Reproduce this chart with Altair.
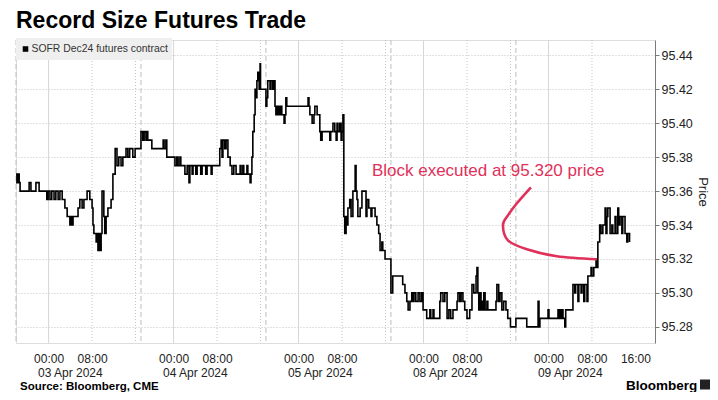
import altair as alt
import pandas as pd

# ---------------- data ----------------
series_name = "SOFR Dec24 futures contract"
sessions = ["03 Apr 2024", "04 Apr 2024", "05 Apr 2024", "08 Apr 2024", "09 Apr 2024"]

s1_time = ["18:00", "18:10", "18:20", "18:35", "18:45", "20:25", "20:45", "21:40", "22:15", "23:40",
           "23:55", "00:15", "00:35", "01:00", "01:20", "01:45", "02:05", "02:30", "03:00", "03:25",
           "03:55", "04:05", "04:20", "04:30", "05:25", "05:45", "06:10", "06:30", "07:05", "07:35",
           "08:00", "08:10", "08:20", "08:45", "08:55", "09:05", "09:15", "09:25", "09:40", "09:50",
           "10:10", "10:20", "10:35", "10:55", "11:30", "11:50", "12:15", "12:35", "12:55", "13:20",
           "13:40", "14:15", "14:35", "14:55", "15:30", "15:55"]
s1_price = [95.370, 95.365, 95.370, 95.365, 95.360, 95.365, 95.360, 95.365, 95.360, 95.355,
            95.360, 95.355, 95.360, 95.355, 95.360, 95.355, 95.360, 95.355, 95.350, 95.345,
            95.340, 95.345, 95.340, 95.345, 95.350, 95.355, 95.350, 95.355, 95.360, 95.355,
            95.350, 95.340, 95.335, 95.330, 95.335, 95.325, 95.335, 95.325, 95.335, 95.360,
            95.345, 95.335, 95.345, 95.350, 95.355, 95.370, 95.385, 95.375, 95.380, 95.375,
            95.380, 95.385, 95.380, 95.385, 95.380, 95.385]

s2_time = ["18:00", "18:20", "18:35", "18:55", "19:05", "19:15", "20:00", "22:05", "22:15", "22:35",
           "22:45", "00:15", "00:35", "00:50", "01:10", "01:20", "02:05", "02:30", "02:50", "03:00",
           "03:25", "03:35", "04:05", "04:20", "05:00", "05:15", "05:55", "06:10", "06:55", "07:05",
           "08:30", "08:45", "08:55", "09:05", "09:25", "09:40", "10:00", "10:25", "10:45", "11:05",
           "11:30", "12:15", "12:25", "12:45", "12:55", "13:30", "13:40", "14:05", "14:15", "14:25",
           "14:35", "14:50", "15:00", "15:10", "15:20", "15:30", "15:45", "15:55", "16:00"]
s2_price = [95.395, 95.390, 95.395, 95.390, 95.395, 95.390, 95.385, 95.390, 95.385, 95.390,
            95.380, 95.375, 95.380, 95.375, 95.380, 95.375, 95.370, 95.375, 95.365, 95.375,
            95.370, 95.375, 95.370, 95.375, 95.370, 95.375, 95.370, 95.375, 95.370, 95.375,
            95.385, 95.390, 95.380, 95.390, 95.385, 95.390, 95.380, 95.375, 95.370, 95.375,
            95.370, 95.375, 95.370, 95.375, 95.370, 95.375, 95.370, 95.365, 95.370, 95.380,
            95.395, 95.405, 95.420, 95.415, 95.425, 95.430, 95.420, 95.435, 95.420]

s3_time = ["18:00", "18:10", "18:20", "18:45", "18:55", "19:15", "19:30", "19:40", "19:50", "20:00",
           "20:10", "20:25", "20:35", "20:45", "20:55", "21:20", "21:30", "21:40", "21:50", "01:45",
           "01:55", "02:05", "02:30", "02:50", "03:00", "03:25", "03:55", "04:05", "04:20", "05:45",
           "05:55", "06:20", "06:40", "06:55", "07:05", "07:15", "07:35", "07:50", "08:00", "08:10",
           "08:20", "08:30", "08:45", "08:55", "09:05", "09:25", "09:40", "10:00", "10:25", "10:35",
           "10:45", "10:55", "11:20", "11:40", "12:25", "12:35", "12:55", "13:20", "13:30", "14:05",
           "14:25", "14:45", "15:00", "15:20", "15:30", "15:55"]
s3_price = [95.410, 95.415, 95.425, 95.420, 95.425, 95.420, 95.425, 95.410, 95.405, 95.410,
            95.405, 95.410, 95.405, 95.410, 95.405, 95.400, 95.405, 95.415, 95.410, 95.415,
            95.410, 95.405, 95.400, 95.405, 95.410, 95.405, 95.395, 95.390, 95.395, 95.390,
            95.395, 95.400, 95.395, 95.390, 95.400, 95.395, 95.400, 95.390, 95.395, 95.405,
            95.345, 95.335, 95.345, 95.340, 95.350, 95.355, 95.345, 95.360, 95.375, 95.360,
            95.355, 95.345, 95.350, 95.360, 95.345, 95.355, 95.350, 95.345, 95.350, 95.345,
            95.340, 95.335, 95.325, 95.330, 95.325, 95.320]

s4_time = ["18:00", "18:20", "20:10", "20:35", "20:55", "21:10", "21:30", "21:50", "22:05", "22:15",
           "22:35", "23:00", "23:20", "23:40", "23:55", "00:35", "01:10", "01:20", "01:45", "01:55",
           "03:00", "03:10", "03:35", "03:55", "04:20", "04:40", "05:00", "05:25", "06:10", "06:20",
           "06:40", "06:55", "07:15", "07:35", "08:00", "08:30", "08:55", "09:15", "09:40", "09:50",
           "10:00", "10:10", "10:25", "10:35", "10:45", "10:55", "11:05", "11:20", "11:40", "11:50",
           "13:20", "13:30", "13:50", "14:05", "14:25", "14:45", "15:10", "15:30", "16:00"]
s4_price = [95.300, 95.310, 95.305, 95.300, 95.295, 95.290, 95.295, 95.300, 95.295, 95.300,
            95.295, 95.300, 95.295, 95.300, 95.290, 95.285, 95.290, 95.285, 95.290, 95.285,
            95.295, 95.300, 95.295, 95.300, 95.285, 95.290, 95.285, 95.290, 95.295, 95.300,
            95.295, 95.300, 95.295, 95.290, 95.285, 95.290, 95.305, 95.300, 95.310, 95.315,
            95.300, 95.290, 95.300, 95.290, 95.295, 95.290, 95.300, 95.290, 95.295, 95.290,
            95.295, 95.305, 95.295, 95.300, 95.290, 95.295, 95.290, 95.285, 95.280]

s5_time = ["18:00", "20:00", "22:05", "22:15", "22:25", "23:55", "00:05", "01:45", "01:55", "02:05",
           "02:15", "02:30", "02:40", "03:00", "03:10", "04:30", "04:50", "05:00", "05:25", "05:35",
           "06:00", "06:10", "06:30", "06:40", "07:05", "07:15", "07:50", "08:00", "08:20", "08:45",
           "08:55", "09:05", "09:25", "09:40", "10:00", "10:25", "10:35", "10:45", "10:55", "11:20",
           "11:40", "11:50", "12:15", "12:25", "12:45", "12:55", "13:10", "13:30", "13:40", "14:05",
           "14:25", "14:35", "14:55"]
s5_price = [95.285, 95.280, 95.295, 95.280, 95.285, 95.290, 95.285, 95.290, 95.285, 95.290,
            95.285, 95.290, 95.285, 95.280, 95.290, 95.305, 95.300, 95.305, 95.295, 95.305,
            95.300, 95.305, 95.295, 95.305, 95.295, 95.310, 95.315, 95.310, 95.315, 95.320,
            95.315, 95.330, 95.340, 95.335, 95.340, 95.350, 95.335, 95.345, 95.350, 95.335,
            95.340, 95.335, 95.345, 95.335, 95.350, 95.340, 95.345, 95.335, 95.345, 95.335,
            95.330, 95.335, 95.330]

# annotation arrow path (session index, time, price)
arrow_session = [4, 4, 3, 3, 3, 4, 4, 4]
arrow_time = ["20:46", "18:11", "15:32", "14:37", "15:32", "20:01", "01:32", "08:54"]
arrow_price = [95.3622, 95.3528, 95.3457, 95.3400, 95.3310, 95.3257, 95.3216, 95.3198]
note_text = "Block executed at 95.320 price"
note_session, note_time, note_price = 2, "13:30", 95.3717

y_ticks = [95.28, 95.30, 95.32, 95.34, 95.36, 95.38, 95.40, 95.42, 95.44]

title_text = "Record Size Futures Trade"
source_text = "Source: Bloomberg, CME"
brand_text = "Bloomberg"

RED = "#e0315a"
FONT = "Liberation Sans"
SLOT = 23  # each trading session (18:00 -> 16:00) plus the break


def pos(idx, hhmm):
    hh, mm = hhmm.split(":")
    t = int(hh) + int(mm) / 60
    since = t - 18 if t >= 18 else t + 6
    return idx * SLOT + since


rows = []
for idx, (ts, ps) in enumerate([(s1_time, s1_price), (s2_time, s2_price), (s3_time, s3_price),
                                (s4_time, s4_price), (s5_time, s5_price)]):
    for t, p in zip(ts, ps):
        rows.append({"h": pos(idx, t), "price": p, "series": series_name})
df = pd.DataFrame(rows)

grid_rows = []
for i in range(len(sessions)):
    grid_rows.append({"h": pos(i, "18:00"), "kind": "open"})
    grid_rows.append({"h": pos(i, "00:00"), "kind": "midnight"})
    grid_rows.append({"h": pos(i, "08:00"), "kind": "morning"})
    if i < len(sessions) - 1:
        grid_rows.append({"h": pos(i, "16:00"), "kind": "close"})
grid_df = pd.DataFrame(grid_rows)

date_df = pd.DataFrame({"h": [pos(i, "04:00") for i in range(len(sessions))], "label": sessions})

arrow_df = pd.DataFrame({
    "h": [pos(s, t) for s, t in zip(arrow_session, arrow_time)],
    "price": arrow_price,
    "order": list(range(len(arrow_price))),
})
note_df = pd.DataFrame({"h": [pos(note_session, note_time)], "price": [note_price], "label": [note_text]})

x_values = []
for i in range(len(sessions)):
    x_values += [pos(i, "00:00"), pos(i, "08:00")]
x_values.append(pos(len(sessions) - 1, "16:00"))

# page is 718x400 with an 8px body margin -> svg must be at most 702x384
W, H = 639, 303
PAD = {"left": 8, "top": 32, "right": 55, "bottom": 49}

x_scale = alt.Scale(domain=[0, 117.6], nice=False, zero=False)
y_scale = alt.Scale(domain=[95.2705, 95.449], nice=False, zero=False)

hour_expr = "((datum.value % 23) + 18) % 24"
x_axis = alt.Axis(values=x_values, labelExpr=f"({hour_expr} < 10 ? '0' : '') + round({hour_expr}) + ':00'",
                  domain=False, ticks=False, grid=False, title=None, labelFont=FONT, labelFontSize=12,
                  labelColor="#222", labelPadding=10, labelOverlap=False, labelFlush=False)
y_axis = alt.Axis(orient="right", values=y_ticks, format=".2f", grid=True, gridDash=[1, 2],
                  gridColor="#c4c4c4", domain=True, domainColor="#7a7a7a", tickColor="#7a7a7a",
                  tickSize=4, labelFont=FONT, labelFontSize=12.5, labelColor="#222", labelPadding=2,
                  title="Price", titleFont=FONT, titleFontSize=13, titleFontWeight="normal",
                  titleColor="#222", titleAngle=90, titlePadding=3)


def X(field="h"):
    return alt.X(f"{field}:Q", scale=x_scale, axis=x_axis)


def Y(field="price"):
    return alt.Y(f"{field}:Q", scale=y_scale, axis=y_axis)


base_grid = alt.Chart(grid_df)
grid_open = base_grid.transform_filter("datum.kind == 'open'").mark_rule(
    color="#bdbdbd", strokeDash=[5, 3], strokeWidth=1).encode(x=X())
grid_mid = base_grid.transform_filter("datum.kind == 'midnight'").mark_rule(
    color="#d6d6d6", strokeWidth=1).encode(x=X())
grid_dot = base_grid.transform_filter("datum.kind == 'morning' || datum.kind == 'close'").mark_rule(
    color="#c4c4c4", strokeDash=[1, 2], strokeWidth=1).encode(x=X())

line = alt.Chart(df).mark_line(color="black", strokeWidth=1.6, interpolate="step-after").encode(
    x=X(), y=Y())

arrow = alt.Chart(arrow_df).mark_line(color=RED, strokeWidth=2.6, interpolate="cardinal").encode(
    x=X(), y=Y(), order="order:Q")

note = alt.Chart(note_df).mark_text(color=RED, font=FONT, fontSize=17, align="left",
                                    baseline="middle").encode(x=X(), y=Y(), text="label:N")

dates = alt.Chart(date_df).mark_text(font=FONT, fontSize=12, color="#222", baseline="top",
                                     align="center").encode(x=X(), y=alt.value(H + 25), text="label:N")

one = pd.DataFrame({"series": [series_name], "title": [title_text], "source": [source_text],
                    "brand": [brand_text]})
legend_box = alt.Chart(one).mark_rect(color="#efefef").encode(
    x=alt.value(0), x2=alt.value(156), y=alt.value(-2), y2=alt.value(20))
legend_sym = alt.Chart(one).mark_square(color="black", size=31, opacity=1).encode(
    x=alt.value(9.5), y=alt.value(9))
legend_txt = alt.Chart(one).mark_text(font=FONT, fontSize=10.4, color="#333", align="left",
                                      baseline="middle").encode(
    x=alt.value(15.5), y=alt.value(9), text="series:N")

title = alt.Chart(one).mark_text(font=FONT, fontSize=23, fontWeight="bold", color="black",
                                 align="left", baseline="alphabetic").encode(
    x=alt.value(0), y=alt.value(-12), text="title:N")
source = alt.Chart(one).mark_text(font=FONT, fontSize=11.5, fontWeight="bold", color="black",
                                  align="left", baseline="alphabetic").encode(
    x=alt.value(4), y=alt.value(350), text="source:N")
brand = alt.Chart(one).mark_text(font=FONT, fontSize=13.5, fontWeight="bold", color="black",
                                 align="left", baseline="alphabetic").encode(
    x=alt.value(610), y=alt.value(349.5), text="brand:N")
brand_icon = alt.Chart(one).mark_square(color="#222", size=100, opacity=1, cornerRadius=2).encode(
    x=alt.value(689), y=alt.value(344.5))

chart = alt.layer(
    grid_open, grid_mid, grid_dot, line, arrow, note, dates,
    legend_box, legend_sym, legend_txt, title, source, brand, brand_icon
).properties(
    width=W, height=H,
    autosize=alt.AutoSizeParams(type="none"),
    padding=PAD,
).configure_view(strokeWidth=0).configure(background="white")

chart.save("out.html", embed_options={"renderer": "svg", "actions": False})
